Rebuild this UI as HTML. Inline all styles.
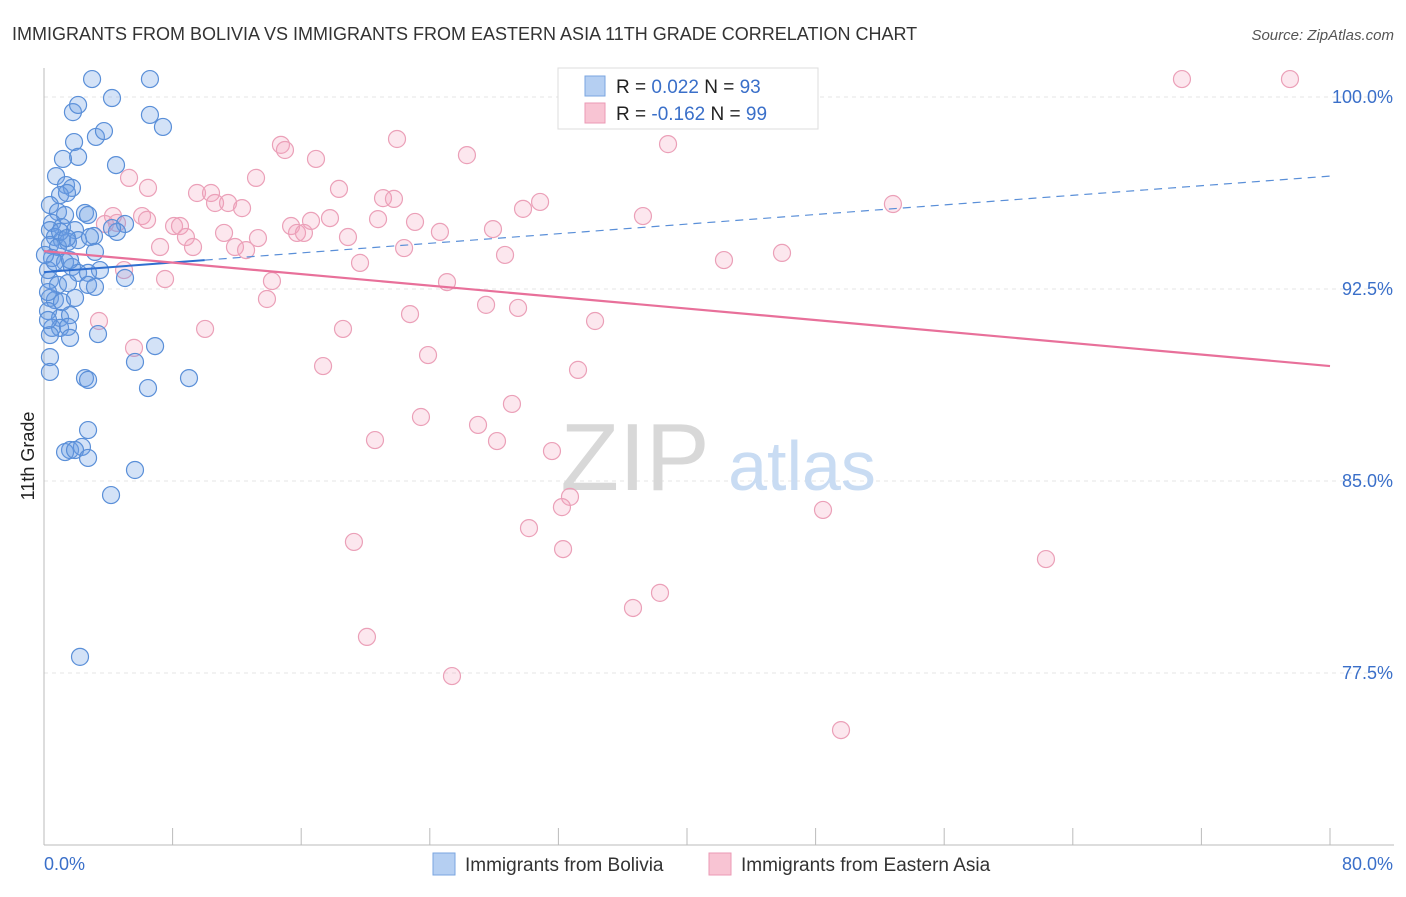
<!DOCTYPE html>
<html><head><meta charset="utf-8">
<style>
body{margin:0;background:#fff;font-family:"Liberation Sans",sans-serif;}
svg text{font-family:"Liberation Sans",sans-serif;}
</style></head>
<body>
<svg id="chart" width="1406" height="892" xmlns="http://www.w3.org/2000/svg">
<text x="12" y="40" font-size="18" fill="#333">IMMIGRANTS FROM BOLIVIA VS IMMIGRANTS FROM EASTERN ASIA 11TH GRADE CORRELATION CHART</text>
<text x="1394" y="40" font-size="15" fill="#555" text-anchor="end" font-style="italic">Source: ZipAtlas.com</text>
<text transform="translate(34,456) rotate(-90)" font-size="18" fill="#222" text-anchor="middle">11th Grade</text>
<g id="grid"></g>
<g id="watermark">
<text x="635" y="490" font-size="96" fill="#d8d8d8" text-anchor="middle" font-family="Liberation Serif,serif">ZIP</text>
<text x="802" y="490" font-size="70" fill="#c9dcf3" text-anchor="middle">atlas</text>
</g>
<g id="axes"></g>
<g id="points"></g>
<g id="trends"></g>
<g>
<rect x="558" y="68" width="260" height="61" fill="#fff" stroke="#ddd"/>
<rect x="585" y="76" width="20" height="20" fill="#b5cff2" stroke="#7aa6e0"/>
<text x="616" y="93" font-size="19" fill="#222">R = <tspan fill="#3a6fc9">0.022</tspan>   N = <tspan fill="#3a6fc9">93</tspan></text>
<rect x="585" y="103" width="20" height="20" fill="#f8c4d3" stroke="#eb9ab4"/>
<text x="616" y="120" font-size="19" fill="#222">R = <tspan fill="#3a6fc9">-0.162</tspan>   N = <tspan fill="#3a6fc9">99</tspan></text>
</g>
<g>
<rect x="433" y="853" width="22" height="22" fill="#b5cff2" stroke="#7aa6e0"/>
<text x="465" y="871" font-size="19" fill="#333">Immigrants from Bolivia</text>
<rect x="709" y="853" width="22" height="22" fill="#f8c4d3" stroke="#eb9ab4"/>
<text x="741" y="871" font-size="19" fill="#333">Immigrants from Eastern Asia</text>
</g>
</svg>
<script>
const yTicks=[100,92.5,85,77.5];
const yTickLabels=["100.0%","92.5%","85.0%","77.5%"];
const xTickLabels=["0.0%","80.0%"];
const blueX=[2.99,6.59,1.80,2.12,4.23,6.59,7.40,1.87,3.23,3.73,2.12,4.48,1.18,0.75,1.37,1.74,1.00,1.43,0.37,0.87,2.55,2.74,1.31,0.50,1.12,0.37,1.93,5.04,4.54,3.11,0.68,1.12,1.49,2.12,2.86,0.37,0.87,3.17,0.50,1.31,1.74,3.48,2.12,2.74,5.04,0.37,0.87,1.49,2.74,3.17,0.37,0.68,1.12,1.93,0.25,1.00,1.62,0.50,1.00,1.49,0.37,1.62,3.36,6.91,0.37,0.37,5.66,2.55,2.74,9.02,6.47,2.74,1.62,1.31,2.36,1.93,2.74,5.66,4.17,2.24,0.25,0.25,0.68,1.00,0.06,0.25,4.23,1.43,1.62];
const blueY=[100.7,100.7,99.41,99.69,99.96,99.30,98.83,98.24,98.44,98.67,97.66,97.34,97.58,96.91,96.56,96.45,96.17,96.25,95.78,95.51,95.47,95.39,95.39,95.08,94.92,94.80,94.80,95.04,94.73,94.57,94.53,94.41,94.34,94.41,94.53,94.22,94.14,93.95,93.71,93.55,93.36,93.24,93.13,93.13,92.93,92.85,92.66,92.73,92.66,92.58,92.15,92.07,91.99,92.15,91.64,91.37,91.48,90.98,90.98,91.02,90.70,90.59,90.74,90.27,89.84,89.26,89.65,89.02,88.95,89.02,88.63,86.99,86.21,86.13,86.33,86.21,85.90,85.43,84.45,78.13,93.24,92.38,93.55,94.73,93.83,91.29,94.88,94.49,93.63];
const pinkX=[37.70,43.11,70.79,77.51,14.74,14.99,21.96,26.31,38.82,16.92,5.29,13.19,6.47,9.52,10.39,18.35,21.09,21.77,10.64,11.45,12.32,30.86,29.80,52.81,37.26,4.29,6.10,6.41,4.54,8.09,8.46,15.37,16.61,17.79,20.78,23.08,3.79,15.74,16.17,18.91,24.63,27.93,11.20,8.83,13.31,9.27,7.22,11.88,12.57,22.40,28.68,45.91,42.30,19.66,4.98,7.53,14.18,25.07,13.87,27.50,29.49,22.77,3.42,10.02,18.60,34.28,5.60,23.89,17.36,33.22,29.11,23.45,27.00,28.18,20.59,31.60,32.72,32.22,48.46,30.17,19.28,32.29,62.33,38.32,36.64,20.09,25.38,49.58];
const pinkY=[100.7,100.7,100.7,100.7,98.13,97.93,98.36,97.73,98.16,97.58,96.84,96.84,96.45,96.25,96.25,96.41,96.05,96.02,95.86,95.86,95.66,95.90,95.63,95.82,95.35,95.35,95.35,95.20,95.08,94.96,94.96,94.96,95.16,95.27,95.23,95.12,95.04,94.69,94.69,94.53,94.73,94.84,94.69,94.53,94.49,94.14,94.14,94.14,94.02,94.10,93.83,93.91,93.63,93.52,93.24,92.89,92.81,92.77,92.11,91.88,91.76,91.52,91.25,90.94,90.94,91.25,90.20,89.92,89.49,89.34,88.01,87.50,87.19,86.56,86.60,86.17,84.38,83.98,83.87,83.16,82.62,82.34,81.95,80.63,80.04,78.91,77.38,75.27];
const blueTrend=[93.16,96.91];
const pinkTrend=[93.98,89.49];
const NS="http://www.w3.org/2000/svg";
const X=v=>44+v*16.075;
const Y=v=>97+(100-v)*25.6;
function mk(t,a,p){const e=document.createElementNS(NS,t);for(const k in a)e.setAttribute(k,a[k]);p.appendChild(e);return e;}
const grid=document.getElementById('grid'),axes=document.getElementById('axes');
yTicks.forEach((t,i)=>{
 const l=mk('line',{x1:44,x2:1394,y1:Y(t),y2:Y(t),stroke:'#e4e4e4','stroke-dasharray':'4,4'},grid);
 
 
 const tx=mk('text',{x:1393,y:Y(t)+6,'font-size':18,fill:'#3a6fc9','text-anchor':'end'},axes);
 tx.textContent=yTickLabels[i];
 
 
});
mk('line',{x1:44,x2:44,y1:68,y2:845,stroke:'#bbb'},axes);
mk('line',{x1:44,x2:1394,y1:845,y2:845,stroke:'#bbb'},axes);
for(let i=0;i<=10;i++){mk('line',{x1:X(i*8),x2:X(i*8),y1:828,y2:845,stroke:'#bbb'},axes);}
[[0,44,'start'],[80,1393,'end']].forEach((d,i)=>{
 const tx=mk('text',{x:d[1],y:870,'font-size':18,fill:'#3a6fc9','text-anchor':d[2]},axes);
 tx.textContent=xTickLabels[i];
 
 
});
const pts=document.getElementById('points');
pinkX.forEach((x,i)=>{
 const c=mk('circle',{cx:X(x),cy:Y(pinkY[i]),r:8.5,fill:'rgba(244,160,188,0.25)',stroke:'#eba0b8','stroke-width':1.2},pts);
 
 
});
blueX.forEach((x,i)=>{
 const c=mk('circle',{cx:X(x),cy:Y(blueY[i]),r:8.5,fill:'rgba(110,160,230,0.3)',stroke:'#5a8fd8','stroke-width':1.2},pts);
 
 
});
const tr=document.getElementById('trends');
const bAt=v=>blueTrend[0]+(blueTrend[1]-blueTrend[0])*v/80;
let l1=mk('line',{x1:X(0),y1:Y(bAt(0)),x2:X(10),y2:Y(bAt(10)),stroke:'#2f6fd0','stroke-width':2},tr);


let l2=mk('line',{x1:X(10),y1:Y(bAt(10)),x2:X(80),y2:Y(bAt(80)),stroke:'#5a8fd8','stroke-width':1.2,'stroke-dasharray':'8,6'},tr);


let l3=mk('line',{x1:X(0),y1:Y(pinkTrend[0]),x2:X(80),y2:Y(pinkTrend[1]),stroke:'#e8709a','stroke-width':2.2},tr);


</script>
</body></html>
